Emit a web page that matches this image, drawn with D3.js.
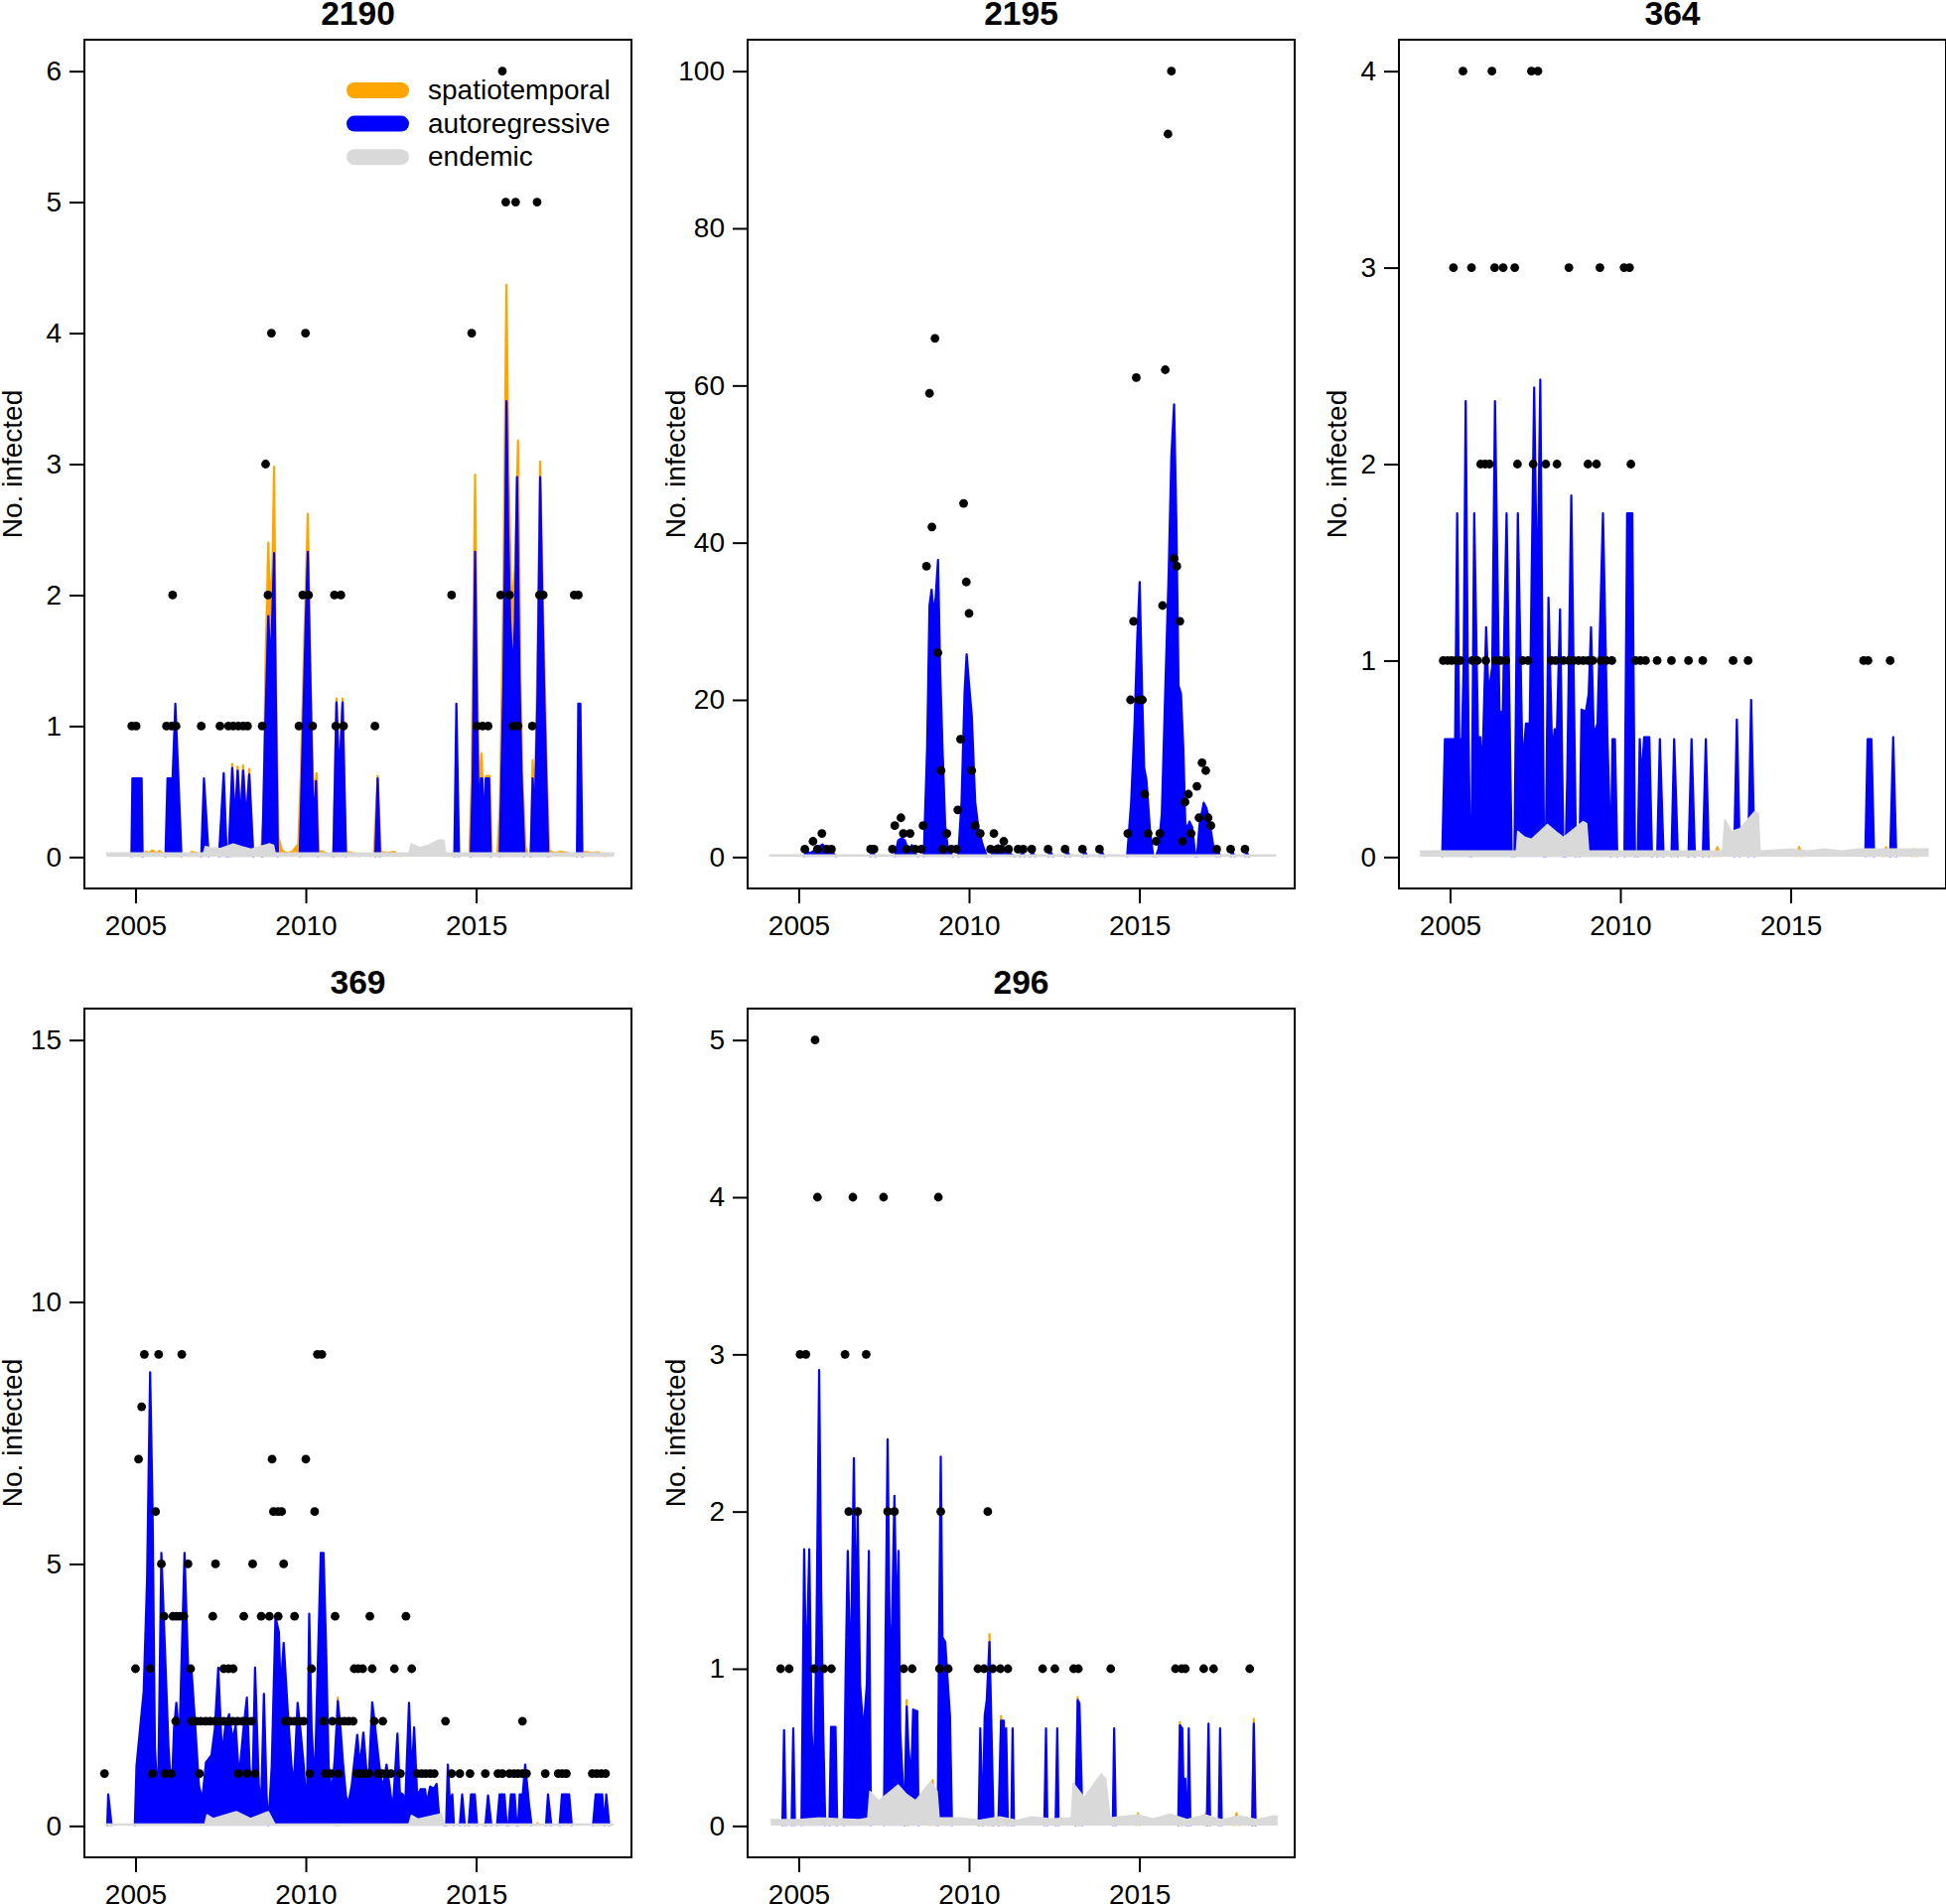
<!DOCTYPE html>
<html><head><meta charset="utf-8">
<script src="https://cdn.jsdelivr.net/npm/d3@7"></script>
<style>
body{margin:0;background:#fff}
text{font-family:"Liberation Sans",Arial,Helvetica,sans-serif}
</style>
</head><body>
<svg id="chart" width="1960" height="1918"></svg>
<script>
// ---------------- DATA ----------------
const titles = ["2190", "2195", "364", "369", "296"];
const xTickValues = [2005, 2010, 2015];
const yTicks2190 = [0, 1, 2, 3, 4, 5, 6];
const yTicks2195 = [0, 20, 40, 60, 80, 100];
const yTicks364 = [0, 1, 2, 3, 4];
const yTicks369 = [0, 5, 10, 15];
const yTicks296 = [0, 1, 2, 3, 4, 5];
const legendLabels = ["spatiotemporal", "autoregressive", "endemic"];

// observed counts [time, count]
const obs2190 = [[2004.89,1],[2005.02,1],[2005.91,1],[2006.06,1],[2006.19,1],[2006.09,2],[2006.93,1],[2007.48,1],[2007.73,1],[2007.87,1],[2008.02,1],[2008.16,1],[2008.29,1],[2008.72,1],[2008.82,3],[2008.89,2],[2008.99,4],[2009.80,1],[2009.91,2],[2009.99,4],[2010.08,2],[2010.2,1],[2010.84,2],[2010.88,1],[2011.03,2],[2011.11,1],[2012.03,1],[2014.28,2],[2014.87,4],[2015.03,1],[2015.19,1],[2015.35,1],[2015.72,2],[2015.77,6],[2015.87,5],[2015.98,2],[2016.08,1],[2016.16,5],[2016.23,1],[2016.65,1],[2016.79,5],[2016.86,2],[2016.97,2],[2017.88,2],[2018.0,2]];
const obs2195 = [[2005.18,1],[2005.42,2],[2005.55,1],[2005.68,3],[2005.82,1],[2005.96,1],[2007.11,1],[2007.21,1],[2007.75,1],[2007.82,4],[2008.0,5],[2008.07,3],[2008.17,1],[2008.27,3],[2008.42,1],[2008.6,1],[2008.65,4],[2008.75,37],[2008.84,59],[2008.91,42],[2009.0,66],[2009.09,26],[2009.18,11],[2009.23,1],[2009.35,3],[2009.48,1],[2009.63,1],[2009.67,6],[2009.75,15],[2009.84,45],[2009.92,35],[2010.0,31],[2010.08,11],[2010.18,4],[2010.33,3],[2010.63,1],[2010.73,3],[2010.83,1],[2010.94,1],[2011.02,2],[2011.16,1],[2011.44,1],[2011.59,1],[2011.84,1],[2012.32,1],[2012.82,1],[2013.33,1],[2013.83,1],[2014.66,3],[2014.74,20],[2014.83,30],[2014.91,61],[2014.99,20],[2015.09,20],[2015.16,8],[2015.26,3],[2015.49,2],[2015.6,3],[2015.68,32],[2015.76,62],[2015.84,92],[2015.94,100],[2016.02,38],[2016.1,37],[2016.19,30],[2016.27,2],[2016.34,7],[2016.44,8],[2016.52,3],[2016.69,9],[2016.75,5],[2016.84,12],[2016.95,11],[2017.02,5],[2017.1,4],[2017.27,1],[2017.68,1],[2018.1,1]];
const obs364 = [[2005.38,4],[2006.23,4],[2007.39,4],[2007.58,4],[2005.1,3],[2005.63,3],[2006.31,3],[2006.56,3],[2006.9,3],[2008.49,3],[2009.40,3],[2010.11,3],[2010.27,3],[2005.9,2],[2006.03,2],[2006.16,2],[2006.98,2],[2007.44,2],[2007.81,2],[2008.14,2],[2009.05,2],[2009.30,2],[2010.31,2],[2004.80,1],[2004.93,1],[2005.05,1],[2005.18,1],[2005.30,1],[2005.65,1],[2005.80,1],[2006.05,1],[2006.34,1],[2006.48,1],[2006.64,1],[2007.13,1],[2007.29,1],[2007.97,1],[2008.10,1],[2008.33,1],[2008.49,1],[2008.63,1],[2008.77,1],[2008.91,1],[2009.05,1],[2009.19,1],[2009.43,1],[2009.59,1],[2009.75,1],[2010.45,1],[2010.59,1],[2010.74,1],[2011.08,1],[2011.50,1],[2012.0,1],[2012.42,1],[2013.31,1],[2013.75,1],[2017.14,1],[2017.27,1],[2017.92,1]];
const obs369 = [[2005.26,9],[2005.68,9],[2006.36,9],[2010.34,9],[2010.47,9],[2005.18,8],[2005.09,7],[2009.01,7],[2010.0,7],[2005.59,6],[2009.05,6],[2009.18,6],[2009.29,6],[2010.26,6],[2005.76,5],[2006.54,5],[2007.35,5],[2008.44,5],[2009.35,5],[2005.84,4],[2006.10,4],[2006.20,4],[2006.30,4],[2006.42,4],[2007.27,4],[2008.18,4],[2008.69,4],[2008.93,4],[2009.19,4],[2009.67,4],[2010.86,4],[2011.88,4],[2012.94,4],[2005.0,3],[2005.43,3],[2006.62,3],[2007.59,3],[2007.73,3],[2007.87,3],[2010.17,3],[2011.42,3],[2011.54,3],[2011.67,3],[2011.95,3],[2012.60,3],[2013.11,3],[2006.18,2],[2006.65,2],[2006.79,2],[2006.92,2],[2007.06,2],[2007.19,2],[2007.33,2],[2007.47,2],[2007.59,2],[2007.73,2],[2007.86,2],[2008.0,2],[2008.14,2],[2008.27,2],[2008.41,2],[2009.40,2],[2009.54,2],[2009.67,2],[2009.81,2],[2009.94,2],[2010.52,2],[2010.78,2],[2010.99,2],[2011.13,2],[2011.26,2],[2011.39,2],[2012.01,2],[2012.26,2],[2014.10,2],[2016.36,2],[2004.09,1],[2005.50,1],[2005.87,1],[2006.05,1],[2006.88,1],[2008.02,1],[2008.27,1],[2008.51,1],[2010.12,1],[2010.57,1],[2010.73,1],[2010.96,1],[2011.49,1],[2011.61,1],[2011.74,1],[2011.85,1],[2012.12,1],[2012.24,1],[2012.37,1],[2012.50,1],[2012.78,1],[2013.27,1],[2013.40,1],[2013.52,1],[2013.65,1],[2013.77,1],[2014.28,1],[2014.52,1],[2014.82,1],[2015.27,1],[2015.64,1],[2015.77,1],[2015.98,1],[2016.11,1],[2016.23,1],[2016.36,1],[2016.48,1],[2017.03,1],[2017.41,1],[2017.53,1],[2017.65,1],[2018.41,1],[2018.54,1],[2018.67,1],[2018.80,1]];
const obs296 = [[2005.48,5],[2005.55,4],[2006.59,4],[2007.49,4],[2009.1,4],[2005.04,3],[2005.21,3],[2006.36,3],[2006.98,3],[2006.47,2],[2006.73,2],[2007.61,2],[2007.81,2],[2009.17,2],[2010.55,2],[2004.47,1],[2004.72,1],[2005.45,1],[2005.74,1],[2005.96,1],[2008.08,1],[2008.33,1],[2009.13,1],[2009.39,1],[2010.26,1],[2010.44,1],[2010.70,1],[2010.92,1],[2011.14,1],[2012.16,1],[2012.52,1],[2013.07,1],[2013.21,1],[2014.16,1],[2016.06,1],[2016.24,1],[2016.35,1],[2016.89,1],[2017.18,1],[2018.24,1]];

// fitted mean components: outline points [time, value]
// total (orange top), ar = autoregressive + endemic (blue top), end = endemic (grey)
const total2190 = [[2005.22,0],[2005.3,0.04],[2005.4,0.03],[2005.5,0.05],[2005.6,0.03],[2005.7,0.045],[2005.8,0.03],[2005.86,0],[2006.55,0],[2006.65,0.04],[2006.8,0.03],[2006.9,0],[2007.8,0],[2007.84,0.71],[2007.92,0.3],[2008.0,0.69],[2008.08,0.3],[2008.16,0.7],[2008.25,0.3],[2008.34,0.67],[2008.46,0],[2008.68,0],[2008.75,0.3],[2008.82,1.5],[2008.9,2.4],[2008.95,1.9],[2009.02,2.2],[2009.07,2.98],[2009.12,1.4],[2009.2,0.15],[2009.3,0.05],[2009.45,0.03],[2009.6,0.04],[2009.78,0.1],[2009.85,0.6],[2009.95,1.6],[2010.06,2.62],[2010.13,1.5],[2010.22,0.5],[2010.32,0.64],[2010.38,0.05],[2010.6,0.03],[2010.75,0],[2010.8,0],[2010.9,1.21],[2010.98,0.63],[2011.08,1.21],[2011.18,0.04],[2011.4,0.03],[2011.6,0],[2011.9,0],[2012.0,0.03],[2012.11,0.62],[2012.2,0.04],[2012.4,0.03],[2012.6,0.04],[2012.8,0],[2014.8,0],[2014.87,0.6],[2014.97,2.92],[2015.04,1.2],[2015.1,0.5],[2015.16,0.79],[2015.22,0.3],[2015.3,0.62],[2015.4,0.62],[2015.46,0],[2015.62,0],[2015.7,0.4],[2015.8,2.0],[2015.89,4.37],[2015.95,3.0],[2016.04,1.9],[2016.14,2.2],[2016.23,3.18],[2016.3,1.4],[2016.36,0.6],[2016.45,0.08],[2016.55,0],[2016.6,0],[2016.66,0.74],[2016.72,0.35],[2016.8,1.5],[2016.88,3.02],[2016.95,2.1],[2017.02,1.3],[2017.08,0.6],[2017.15,0.05],[2017.3,0.03],[2017.5,0.04],[2017.7,0.03],[2017.9,0],[2018.12,0],[2018.2,0.04],[2018.4,0.03],[2018.6,0.035],[2018.8,0]];
const ar2190 = [[2004.88,0],[2004.91,0.6],[2005.18,0.6],[2005.21,0],[2005.88,0],[2005.94,0.6],[2006.09,0.6],[2006.17,1.17],[2006.26,0.6],[2006.35,0],[2006.93,0],[2007.01,0.6],[2007.15,0],[2007.45,0],[2007.59,0.64],[2007.68,0],[2007.73,0],[2007.84,0.68],[2007.92,0.28],[2008.0,0.66],[2008.08,0.28],[2008.16,0.66],[2008.25,0.28],[2008.34,0.63],[2008.46,0],[2008.72,0],[2008.8,0.9],[2008.9,1.84],[2008.95,1.5],[2009.0,1.7],[2009.07,2.32],[2009.12,1.2],[2009.18,0],[2009.82,0],[2009.9,0.8],[2010.0,1.8],[2010.06,2.33],[2010.13,1.4],[2010.2,0.5],[2010.25,0.3],[2010.3,0.58],[2010.36,0],[2010.81,0],[2010.9,1.18],[2010.98,0.6],[2011.08,1.18],[2011.18,0],[2012.04,0],[2012.11,0.6],[2012.18,0],[2014.36,0],[2014.42,1.17],[2014.5,0],[2014.84,0],[2014.9,0.6],[2014.97,2.33],[2015.03,1.0],[2015.06,0.6],[2015.1,0.3],[2015.14,0.6],[2015.18,0.6],[2015.22,0.2],[2015.28,0.6],[2015.38,0.6],[2015.43,0],[2015.69,0],[2015.74,0.6],[2015.8,1.3],[2015.86,2.6],[2015.89,3.48],[2015.94,2.5],[2016.0,1.8],[2016.08,1.4],[2016.14,1.8],[2016.2,2.9],[2016.27,1.4],[2016.33,0.65],[2016.42,0],[2016.6,0],[2016.66,0.6],[2016.72,0.3],[2016.8,1.2],[2016.88,2.9],[2016.94,2.0],[2017.0,1.23],[2017.06,0.6],[2017.12,0],[2017.96,0],[2018.0,1.17],[2018.06,1.17],[2018.12,0]];
const end2190 = [[2004.15,0.03],[2007.0,0.03],[2007.05,0.08],[2007.2,0.07],[2007.5,0.065],[2007.87,0.1],[2008.1,0.08],[2008.4,0.06],[2008.94,0.1],[2009.05,0.09],[2009.1,0.03],[2013.03,0.03],[2013.1,0.1],[2013.35,0.07],[2013.6,0.09],[2013.9,0.13],[2014.05,0.13],[2014.1,0.03],[2019.05,0.03]];

const total2195 = [];
const ar2195 = [[2005.15,0],[2005.22,0.7],[2005.35,0.5],[2005.5,1.0],[2005.7,1.6],[2005.85,0.8],[2006.0,0.6],[2006.1,0],[2007.09,0],[2007.16,0.7],[2007.26,0],[2007.82,0],[2007.92,2.1],[2008.02,2.4],[2008.12,2.1],[2008.22,0.7],[2008.32,1.5],[2008.42,0.4],[2008.52,0],[2008.67,0],[2008.77,13.9],[2008.84,32],[2008.9,34],[2008.96,31],[2009.02,33],[2009.09,37.8],[2009.15,24],[2009.22,14],[2009.3,4],[2009.38,1],[2009.53,0],[2009.68,0],[2009.78,7],[2009.87,21],[2009.93,25.8],[2010.0,22],[2010.08,18],[2010.18,7],[2010.28,3.5],[2010.41,1.4],[2010.53,0],[2010.63,0],[2010.73,0.8],[2010.85,1.5],[2010.98,1],[2011.14,0.7],[2011.34,0],[2011.49,0],[2011.56,0.7],[2011.64,0],[2011.79,0],[2011.86,0.7],[2011.94,0],[2012.32,0],[2012.39,0.7],[2012.47,0],[2012.82,0],[2012.89,0.7],[2012.97,0],[2013.33,0],[2013.4,0.7],[2013.48,0],[2013.83,0],[2013.9,0.7],[2013.98,0],[2014.64,0],[2014.76,7],[2014.86,17],[2014.94,28],[2015.01,35],[2015.08,21],[2015.14,11.4],[2015.21,9.7],[2015.31,3.5],[2015.41,0],[2015.48,0],[2015.56,1],[2015.66,5.5],[2015.76,21],[2015.86,36],[2015.94,51],[2016.02,57.6],[2016.09,41.6],[2016.15,21.8],[2016.22,20.8],[2016.29,13.9],[2016.35,4.2],[2016.42,3.8],[2016.47,4.5],[2016.55,3.8],[2016.65,0],[2016.69,0],[2016.77,4.2],[2016.89,6.9],[2016.97,6.2],[2017.07,4.2],[2017.17,1.4],[2017.27,0],[2017.32,0.7],[2017.38,0],[2017.68,0],[2017.73,0.7],[2017.8,0],[2018.1,0],[2018.15,0.7],[2018.22,0]];
const end2195 = [[2004.15,0.25],[2019.0,0.25]];

const total364 = [[2011.95,0],[2012.05,0.05],[2012.2,0],[2012.75,0],[2012.85,0.05],[2012.95,0],[2015.15,0],[2015.25,0.05],[2015.35,0],[2017.7,0],[2017.8,0.05],[2017.9,0],[2018.55,0],[2018.62,0.04],[2018.7,0]];
const ar364 = [[2004.77,0],[2004.85,0.6],[2005.08,0.6],[2005.15,0.6],[2005.21,1.75],[2005.27,0.6],[2005.35,0.6],[2005.40,0.97],[2005.46,2.32],[2005.52,0.97],[2005.59,0],[2005.63,0],[2005.71,1.75],[2005.82,0.61],[2005.89,0.61],[2005.94,0.39],[2006.06,1.17],[2006.13,0.83],[2006.24,0.97],[2006.32,2.32],[2006.45,0.74],[2006.55,0.74],[2006.66,1.75],[2006.81,0],[2006.89,0],[2006.99,1.75],[2007.13,0.46],[2007.23,0.68],[2007.34,0.68],[2007.47,2.39],[2007.56,1.26],[2007.65,2.43],[2007.76,0],[2007.81,0],[2007.89,1.32],[2008.0,0.51],[2008.07,0.65],[2008.14,0.65],[2008.23,1.26],[2008.33,0],[2008.39,0],[2008.44,0.39],[2008.56,1.84],[2008.70,0],[2008.80,0],[2008.86,0.75],[2008.99,0.74],[2009.07,0.83],[2009.14,1.17],[2009.22,0.62],[2009.33,0.68],[2009.49,1.75],[2009.62,0.61],[2009.72,0],[2009.77,0.6],[2009.84,0.6],[2009.91,0],[2010.12,0],[2010.20,1.75],[2010.35,1.75],[2010.43,0],[2010.51,0],[2010.57,0.6],[2010.62,0.39],[2010.70,0.61],[2010.85,0.61],[2010.93,0],[2011.08,0],[2011.16,0.6],[2011.27,0],[2011.50,0],[2011.58,0.6],[2011.69,0],[2012.0,0],[2012.09,0.6],[2012.19,0],[2012.42,0],[2012.51,0.6],[2012.60,0],[2013.34,0],[2013.42,0.7],[2013.51,0],[2013.75,0],[2013.84,0.8],[2013.94,0],[2017.19,0],[2017.26,0.6],[2017.37,0.6],[2017.45,0],[2017.92,0],[2018.01,0.61],[2018.10,0]];
const end364 = [[2004.12,0.03],[2006.95,0.03],[2006.99,0.13],[2007.2,0.1],[2007.39,0.09],[2007.86,0.165],[2008.1,0.13],[2008.33,0.1],[2008.91,0.18],[2009.01,0.17],[2009.07,0.03],[2013.0,0.03],[2013.07,0.19],[2013.26,0.13],[2013.52,0.145],[2013.94,0.23],[2014.05,0.22],[2014.1,0.03],[2015.0,0.04],[2015.5,0.03],[2016.0,0.04],[2016.5,0.03],[2017.0,0.04],[2019.05,0.04]];

const total369 = [[2010.89,0],[2010.94,2.45],[2010.99,0],[2015.2,0],[2015.25,0.05],[2015.3,0],[2016.75,0],[2016.8,0.05],[2016.85,0]];
const ar369 = [[2004.17,0],[2004.20,0.6],[2004.30,0],[2004.98,0],[2005.03,1.14],[2005.24,2.56],[2005.34,4.69],[2005.43,8.66],[2005.50,6.1],[2005.57,1.49],[2005.66,0.43],[2005.76,5.21],[2005.87,3.27],[2005.97,1.49],[2006.06,0.57],[2006.13,1.85],[2006.20,2.35],[2006.29,1.64],[2006.44,5.21],[2006.55,2.92],[2006.65,2.92],[2006.76,1.85],[2006.86,0.78],[2006.96,0.5],[2007.07,1.21],[2007.23,1.35],[2007.33,1.85],[2007.43,3.02],[2007.54,1.35],[2007.64,1.92],[2007.75,2.13],[2007.85,1.64],[2007.94,1.92],[2008.04,0.92],[2008.17,1.85],[2008.27,2.45],[2008.35,1.14],[2008.43,0.57],[2008.51,3.02],[2008.62,0.78],[2008.69,0.43],[2008.77,2.52],[2008.85,0.57],[2008.9,0],[2009.0,1.14],[2009.11,3.98],[2009.21,3.7],[2009.26,2.56],[2009.35,3.49],[2009.47,2.2],[2009.58,1.14],[2009.65,0.78],[2009.76,2.35],[2009.84,1.85],[2009.94,1.14],[2010.03,0.21],[2010.1,4.05],[2010.17,1.85],[2010.26,0.78],[2010.36,3.27],[2010.44,5.21],[2010.52,5.21],[2010.6,3.27],[2010.67,1.14],[2010.76,0.64],[2010.85,1.28],[2010.94,2.38],[2011.02,1.85],[2011.09,1.21],[2011.18,0.57],[2011.25,0.43],[2011.35,0.78],[2011.51,1.74],[2011.59,1.14],[2011.69,1.78],[2011.77,1.14],[2011.84,0.78],[2011.95,2.36],[2012.03,1.92],[2012.16,1.14],[2012.26,0.71],[2012.37,1.17],[2012.47,0.71],[2012.55,0.28],[2012.69,1.76],[2012.76,0.64],[2012.85,0.6],[2012.92,0.43],[2013.03,2.35],[2013.11,0.92],[2013.18,1.88],[2013.27,0.57],[2013.37,0.7],[2013.5,0.7],[2013.55,0.43],[2013.65,0.75],[2013.76,0.71],[2013.84,0.8],[2013.91,0.21],[2014.07,0],[2014.12,0],[2014.17,1.17],[2014.23,0.43],[2014.30,0.6],[2014.35,0],[2014.52,0],[2014.59,0.6],[2014.67,0],[2014.78,0],[2014.85,0.6],[2014.96,0.6],[2015.03,0],[2015.27,0],[2015.35,0.58],[2015.45,0],[2015.61,0],[2015.69,0.6],[2015.83,0.6],[2015.90,0],[2015.95,0],[2016.02,0.6],[2016.13,0.6],[2016.19,0],[2016.23,0],[2016.28,0.6],[2016.37,0.6],[2016.44,1.17],[2016.55,0.43],[2016.63,0],[2017.05,0],[2017.11,0.6],[2017.21,0],[2017.45,0],[2017.52,0.6],[2017.73,0.6],[2017.81,0],[2018.43,0],[2018.51,0.6],[2018.70,0.6],[2018.77,0],[2018.82,0.6],[2018.91,0]];
const end369 = [[2004.15,0.035],[2007.04,0.035],[2007.1,0.21],[2007.28,0.14],[2007.96,0.27],[2008.38,0.14],[2008.9,0.27],[2009.09,0.035],[2013.03,0.035],[2013.1,0.2],[2013.29,0.13],[2013.97,0.23],[2014.07,0.035],[2019.03,0.035]];

const total296 = [[2008.12,0],[2008.17,0.8],[2008.22,0],[2008.85,0],[2008.93,0.29],[2009.0,0],[2010.55,0],[2010.6,1.22],[2010.65,0],[2010.9,0],[2010.94,0.7],[2011.0,0],[2013.15,0],[2013.19,0.82],[2013.24,0],[2014.9,0],[2014.96,0.08],[2015.02,0],[2016.15,0],[2016.19,0.66],[2016.24,0],[2016.9,0],[2016.95,0.08],[2017.0,0],[2017.75,0],[2017.85,0.08],[2017.95,0],[2018.31,0],[2018.36,0.68],[2018.41,0]];
const ar296 = [[2004.52,0],[2004.57,0.61],[2004.62,0],[2004.79,0],[2004.84,0.62],[2004.89,0],[2005.08,0],[2005.16,1.76],[2005.22,0.9],[2005.31,1.76],[2005.38,0.6],[2005.45,0.3],[2005.52,1.2],[2005.6,2.9],[2005.66,1.5],[2005.72,0.6],[2005.78,0],[2005.9,0],[2005.95,0.63],[2006.08,0.63],[2006.13,0],[2006.32,0],[2006.38,1.0],[2006.44,1.75],[2006.52,0.9],[2006.62,2.34],[2006.68,1.2],[2006.73,2.0],[2006.8,0.9],[2006.9,0.6],[2007.0,0.9],[2007.06,1.75],[2007.12,0],[2007.5,0],[2007.55,1.2],[2007.61,2.46],[2007.68,1.0],[2007.74,1.3],[2007.81,2.1],[2007.88,1.2],[2007.93,1.75],[2007.98,0.6],[2008.05,0.3],[2008.1,0],[2008.17,0.76],[2008.22,0.5],[2008.3,0.3],[2008.36,0.74],[2008.48,0.73],[2008.52,0],[2009.08,0],[2009.12,1.2],[2009.17,2.35],[2009.22,1.2],[2009.3,1.17],[2009.38,0.9],[2009.44,0.7],[2009.5,0],[2010.28,0],[2010.33,0.62],[2010.4,0],[2010.46,0.7],[2010.52,0.8],[2010.6,1.17],[2010.66,0.6],[2010.72,0],[2010.86,0],[2010.94,0.67],[2011.02,0.67],[2011.07,0.3],[2011.09,0.62],[2011.14,0],[2011.24,0],[2011.28,0.62],[2011.32,0],[2012.21,0],[2012.26,0.62],[2012.3,0],[2012.54,0],[2012.59,0.62],[2012.63,0],[2013.12,0],[2013.19,0.8],[2013.24,0.78],[2013.3,0.3],[2013.33,0],[2014.22,0],[2014.26,0.62],[2014.31,0],[2016.14,0],[2016.19,0.64],[2016.26,0.62],[2016.3,0.2],[2016.35,0.3],[2016.4,0],[2016.42,0],[2016.45,0.62],[2016.5,0],[2016.98,0],[2017.03,0.65],[2017.08,0],[2017.33,0],[2017.37,0.62],[2017.42,0],[2018.31,0],[2018.36,0.65],[2018.41,0]];
const end296 = [[2004.18,0.04],[2005.0,0.04],[2005.63,0.05],[2006.2,0.045],[2006.78,0.04],[2007.03,0.05],[2007.09,0.22],[2007.35,0.16],[2007.92,0.26],[2008.17,0.2],[2008.43,0.16],[2008.87,0.28],[2009.06,0.22],[2009.12,0.05],[2009.82,0.05],[2010.3,0.035],[2010.9,0.057],[2011.4,0.035],[2011.85,0.057],[2012.4,0.045],[2013.0,0.05],[2013.06,0.27],[2013.38,0.18],[2013.88,0.33],[2014.01,0.3],[2014.14,0.05],[2014.96,0.07],[2015.4,0.045],[2015.91,0.074],[2016.4,0.04],[2016.93,0.07],[2017.4,0.04],[2017.94,0.063],[2018.45,0.04],[2018.96,0.063],[2019.06,0.06]];

// ---------------- DRAWING ----------------
const colors = {total: "#FFA500", ar: "#0000FF", end: "#D9D9D9"};
const panels = [
  {title: titles[0], obs: obs2190, total: total2190, ar: ar2190, end: end2190, ticks: yTicks2190, left: 85,  top: 40,   labOff: 63},
  {title: titles[1], obs: obs2195, total: total2195, ar: ar2195, end: end2195, ticks: yTicks2195, left: 753, top: 40,   labOff: 63},
  {title: titles[2], obs: obs364,  total: total364,  ar: ar364,  end: end364,  ticks: yTicks364,  left: 1409, top: 40,  labOff: 53},
  {title: titles[3], obs: obs369,  total: total369,  ar: ar369,  end: end369,  ticks: yTicks369,  left: 85,  top: 1016, labOff: 63},
  {title: titles[4], obs: obs296,  total: total296,  ar: ar296,  end: end296,  ticks: yTicks296,  left: 753, top: 1016, labOff: 63}
];
const W = 551, H = 855;
const svg = d3.select("#chart");
svg.append("rect").attr("width",1960).attr("height",1918).attr("fill","#fff");

panels.forEach((p, i) => {
  const yMax = d3.max(p.ticks);
  const x = d3.scaleLinear().domain([2003.5, 2019.56]).range([p.left, p.left + W]);
  const y = d3.scaleLinear().domain([-0.04 * yMax, 1.04 * yMax]).range([p.top + H, p.top]);
  const g = svg.append("g");
  const cid = "clip" + i;
  // fills are clipped at the zero line
  svg.append("clipPath").attr("id", cid).append("rect")
    .attr("x", p.left + 1).attr("y", p.top + 1).attr("width", W - 2).attr("height", y(0) - p.top - 1);
  const area = d3.area().x(d => x(d[0])).y0(y(0)).y1(d => y(d[1]));
  const line = d3.line().x(d => x(d[0])).y(d => y(d[1]));
  const plot = g.append("g").attr("clip-path", `url(#${cid})`);
  [["total", p.total, 2.2], ["ar", p.ar, 2.2], ["end", p.end, 1.6]].forEach(([k, data, sw]) => {
    if (!data.length) return;
    plot.append("path").datum(data).attr("d", area).attr("fill", colors[k]).attr("stroke", "none");
    // outline only where the curve is above zero (so nothing is stroked along the baseline)
    const segs = d3.pairs(data).filter(([a, b]) => a[1] > 0 || b[1] > 0);
    plot.append("path").attr("d", segs.map(s => line(s)).join(""))
      .attr("fill", "none").attr("stroke", colors[k]).attr("stroke-width", sw)
      .attr("stroke-linecap", "round").attr("stroke-linejoin", "round");
  });
  g.append("g").selectAll("circle").data(p.obs).enter().append("circle")
    .attr("cx", d => x(d[0])).attr("cy", d => y(d[1])).attr("r", 4.4).attr("fill", "#000");

  g.append("rect").attr("x", p.left).attr("y", p.top).attr("width", W).attr("height", H)
    .attr("fill", "none").attr("stroke", "#000").attr("stroke-width", 2);

  const yAxis = g.append("g").attr("transform", `translate(${p.left},0)`)
    .call(d3.axisLeft(y).tickValues(p.ticks).tickSize(15).tickPadding(8).tickFormat(d3.format("d")));
  const xAxis = g.append("g").attr("transform", `translate(0,${p.top + H})`)
    .call(d3.axisBottom(x).tickValues(xTickValues).tickSize(15).tickPadding(12).tickFormat(d3.format("d")));
  [yAxis, xAxis].forEach(a => {
    a.select(".domain").remove();
    a.selectAll("line").attr("stroke", "#000").attr("stroke-width", 2);
    a.selectAll("text").attr("font-size", 28).attr("fill", "#000")
      .attr("font-family", '"Liberation Sans", Arial, sans-serif');
  });

  g.append("text").attr("x", p.left + W / 2).attr("y", p.top - 15)
    .attr("text-anchor", "middle").attr("font-weight", "bold").attr("font-size", 33.6).text(p.title);

  g.append("text").attr("transform", `translate(${p.left - p.labOff},${p.top + H / 2}) rotate(-90)`)
    .attr("text-anchor", "middle").attr("font-size", 28).text("No. infected");

  if (i === 0) {
    const lg = g.append("g");
    const legendColors = [colors.total, colors.ar, colors.end];
    legendLabels.forEach((lab, j) => {
      const cy = 91 + j * 33.6;
      lg.append("line").attr("x1", 357).attr("x2", 404).attr("y1", cy).attr("y2", cy)
        .attr("stroke", legendColors[j]).attr("stroke-width", 16).attr("stroke-linecap", "round");
      lg.append("text").attr("x", 431).attr("y", cy).attr("dy", "0.33em")
        .attr("font-size", 28).text(lab);
    });
  }
});
</script>
</body></html>
